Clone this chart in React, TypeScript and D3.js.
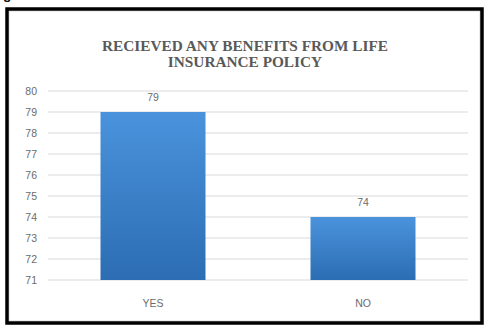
import React from "react";
import * as d3 from "d3";

const categories = ["YES", "NO"];
const values = [79, 74];
const yTicks = [71, 72, 73, 74, 75, 76, 77, 78, 79, 80];
const titleLines = ["RECIEVED ANY BENEFITS FROM LIFE", "INSURANCE POLICY"];

const W = 485;
const H = 325;
const plot = { left: 48, right: 468, top: 91, bottom: 280 };

export default function App() {
  const x = d3
    .scaleBand<string>()
    .domain(categories)
    .range([plot.left, plot.right])
    .paddingInner(0.5)
    .paddingOuter(0.25);
  const y = d3.scaleLinear().domain([71, 80]).range([plot.bottom, plot.top]);

  return (
    <svg
      width={W}
      height={H}
      style={{ position: "absolute", left: 0, top: 0, background: "#fff" }}
    >
      <defs>
        <linearGradient id="barGrad" x1="0" y1="0" x2="0" y2="1">
          <stop offset="0%" stopColor="#4a93dc" />
          <stop offset="100%" stopColor="#2c6db3" />
        </linearGradient>
      </defs>
      <rect x={0} y={0} width={W} height={H} fill="#fff" />
      <text
        x={3}
        y={-1}
        fontFamily="Liberation Sans, Arial, sans-serif"
        fontWeight="bold"
        fontSize={14}
        fill="#111"
      >
        g
      </text>
      <rect x={9} y={11} width={471} height={310} fill="none" stroke="#d9d9d9" strokeWidth={1} />
      <rect x={7} y={9} width={475} height={314} fill="none" stroke="#000" strokeWidth={3.5} />

      {titleLines.map((t, i) => (
        <text
          key={t}
          x={245}
          y={51 + i * 16}
          textAnchor="middle"
          fontFamily="Liberation Serif, Times New Roman, serif"
          fontWeight="bold"
          fontSize={15.3}
          fill="#595959"
        >
          {t}
        </text>
      ))}

      {yTicks.map((t) => (
        <g key={t}>
          <line
            x1={plot.left}
            x2={plot.right}
            y1={y(t)}
            y2={y(t)}
            stroke="#d9d9d9"
            strokeWidth={1}
          />
          <text
            x={37}
            y={y(t)}
            dy="0.35em"
            textAnchor="end"
            fontFamily="Liberation Sans Narrow, Liberation Sans, Arial, sans-serif"
            fontSize={10.5}
            fill="#6b6b6b"
          >
            {t}
          </text>
        </g>
      ))}

      {categories.map((c, i) => (
        <g key={c}>
          <rect
            x={x(c)!}
            y={y(values[i])}
            width={x.bandwidth()}
            height={y(71) - y(values[i])}
            fill="url(#barGrad)"
          />
          <text
            x={x(c)! + x.bandwidth() / 2}
            y={y(values[i]) - 15}
            dy="0.35em"
            textAnchor="middle"
            fontFamily="Liberation Sans Narrow, Liberation Sans, Arial, sans-serif"
            fontSize={10.5}
            fill="#6b6b6b"
          >
            {values[i]}
          </text>
          <text
            x={x(c)! + x.bandwidth() / 2}
            y={303}
            dy="0.35em"
            textAnchor="middle"
            fontFamily="Liberation Sans Narrow, Liberation Sans, Arial, sans-serif"
            fontSize={10.5}
            fill="#6b6b6b"
          >
            {c}
          </text>
        </g>
      ))}
    </svg>
  );
}
